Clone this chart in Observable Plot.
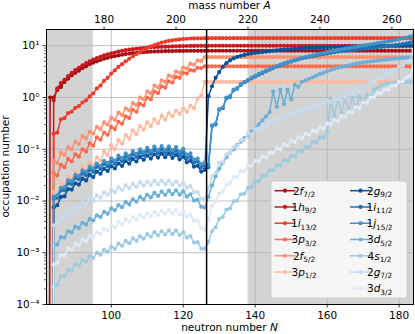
<!DOCTYPE html>
<html>
<head>
<meta charset="utf-8">
<script src="https://cdn.jsdelivr.net/npm/d3@7"></script>
<script src="https://cdn.jsdelivr.net/npm/@observablehq/plot@0.6"></script>
<style>
html,body{margin:0;padding:0;background:#fff;}
#chart svg{display:block;}
</style>
</head>
<body>
<div id="chart"></div>
<script>
// ---------- data (neutron number N = firstN + index) ----------
const firstN = 82;
const protonNumber = 82;          // lead: mass number A = N + 82
const shellClosure = 126.5;
const grayRegions = [[82, 95], [138, 184]];
const xTicks = [100, 120, 140, 160, 180];
const massTicks = [180, 200, 220, 240, 260];
const yTicks = [1e-4, 1e-3, 1e-2, 1e-1, 1, 10];
const yTickLabels = ["10⁻⁴", "10⁻³", "10⁻²", "10⁻¹", "10⁰", "10¹"];

const orbitals = ["2f7/2","1h9/2","1i13/2","3p3/2","2f5/2","3p1/2",
                  "2g9/2","1i11/2","1j15/2","3d5/2","4s1/2","2g7/2","3d3/2"];
const colors = ["#a50f15","#cb181d","#ef3b2c","#fb6a4a","#fc9272","#fcbba1",
                "#08519c","#2171b5","#4292c6","#6baed6","#9ecae1","#c6dbef","#deebf7"];

const occ2f72 = [0,1.0,1.0,1.4,1.6,2.0,2.3,2.7,3.0,3.3,
 3.7,4.0,4.4,4.7,5.0,5.3,5.6,5.85,6.1,6.3,
 6.5,6.7,6.9,7.05,7.2,7.3,7.4,7.5,7.6,7.65,
 7.7,7.75,7.8,7.85,7.88,7.9,7.92,7.94,7.95,7.96,
 7.97,7.98,7.98,7.99,7.99,8,8,8,8,8,
 8,8,8,8,8,8,8,8,8,8,
 8,8,8,8,8,8,8,8,8,8,
 8,8,8,8,8,8,8,8,8,8,
 8,8,8,8,8,8,8,8,8,8,
 8,8,8,8,8,8,8,8,8,8,
 8,8,8];
const occ1h92 = [0,0,0.88,1.5,1.9,2.2,2.6,3.0,3.4,3.75,
 4.2,4.6,5.0,5.4,5.8,6.1,6.5,6.8,7.1,7.4,
 7.7,7.95,8.2,8.4,8.6,8.75,8.9,9.05,9.2,9.3,
 9.4,9.5,9.55,9.6,9.65,9.7,9.75,9.8,9.85,9.88,
 9.9,9.93,9.95,9.97,9.98,10,10,10,10,10,
 10,10,10,10,10,10,10,10,10,10,
 10,10,10,10,10,10,10,10,10,10,
 10,10,10,10,10,10,10,10,10,10,
 10,10,10,10,10,10,10,10,10,10,
 10,10,10,10,10,10,10,10,10,10,
 10,10,10];
const occ1i132 = [0,0,0.2,0.21,0.38,0.4,0.5,0.53,0.63,0.68,
 0.8,0.88,1.05,1.2,1.5,1.7,2.1,2.4,2.9,3.35,
 3.9,4.4,5.0,5.6,6.3,6.9,7.6,8.3,9.0,9.7,
 10.3,10.9,11.5,12.0,12.4,12.7,13.0,13.25,13.5,13.65,
 13.8,13.87,13.93,13.97,14,14,14,14,14,14,
 14,14,14,14,14,14,14,14,14,14,
 14,14,14,14,14,14,14,14,14,14,
 14,14,14,14,14,14,14,14,14,14,
 14,14,14,14,14,14,14,14,14,14,
 14,14,14,14,14,14,14,14,14,14,
 14,14,14];
const occ3p32 = [0,0,0.035,0.031,0.05,0.045,0.065,0.058,0.08,0.072,
 0.1,0.09,0.13,0.117,0.17,0.153,0.21,0.19,0.27,0.245,
 0.34,0.31,0.43,0.4,0.58,0.53,0.75,0.7,1.0,0.93,
 1.3,1.22,1.65,1.55,2.05,1.95,2.5,2.4,3.0,2.9,
 3.4,3.3,3.75,3.7,4,4,4,4,4,4,
 4,4,4,4,4,4,4,4,4,4,
 4,4,4,4,4,4,4,4,4,4,
 4,4,4,4,4,4,4,4,4,4,
 4,4,4,4,4,4,4,4,4,4,
 4,4,4,4,4,4,4,4,4,4,
 4,4,4];
const occ2f52 = [0,0,0.06,0.054,0.085,0.077,0.11,0.1,0.14,0.126,
 0.18,0.162,0.22,0.2,0.27,0.245,0.33,0.3,0.41,0.37,
 0.51,0.46,0.62,0.56,0.78,0.71,1.0,0.92,1.3,1.2,
 1.7,1.57,2.15,2.0,2.65,2.48,3.2,3.0,3.8,3.6,
 4.5,4.3,5.2,5.1,6,6,6,6,6,6,
 6,6,6,6,6,6,6,6,6,6,
 6,6,6,6,6,6,6,6,6,6,
 6,6,6,6,6,6,6,6,6,6,
 6,6,6,6,6,6,6,6,6,6,
 6,6,6,6,6,6,6,6,6,6,
 6,6,6];
const occ3p12 = [0,0,0.015,0.012,0.022,0.019,0.03,0.026,0.038,0.032,
 0.047,0.04,0.057,0.048,0.07,0.06,0.09,0.077,0.12,0.1,
 0.15,0.128,0.19,0.16,0.23,0.195,0.28,0.24,0.33,0.28,
 0.38,0.32,0.44,0.37,0.5,0.43,0.56,0.48,0.62,0.53,
 0.7,0.62,0.95,1.1,2,2,2,2,2,2,
 2,2,2,2,2,2,2,2,2,2,
 2,2,2,2,2,2,2,2,2,2,
 2,2,2,2,2,2,2,2,2,2,
 2,2,2,2,2,2,2,2,2,2,
 2,2,2,2,2,2,2,2,2,2,
 2,2,2];
const occ2g92 = [0,0,0.0075,0.0083,0.012,0.0123,0.017,0.0166,0.022,0.0208,
 0.027,0.025,0.032,0.029,0.037,0.0336,0.042,0.038,0.047,0.0425,
 0.053,0.0476,0.059,0.0527,0.065,0.058,0.071,0.0625,0.076,0.066,
 0.08,0.069,0.082,0.07,0.082,0.068,0.078,0.064,0.072,0.056,
 0.06,0.046,0.048,0.037,0.04,1.06,1.65,2.4,3.1,3.9,
 4.6,5.2,5.7,6.1,6.4,6.65,6.9,7.1,7.25,7.4,
 7.55,7.7,7.85,8.0,8.15,8.3,8.42,8.54,8.65,8.75,
 8.85,8.93,9.0,9.07,9.13,9.19,9.25,9.3,9.35,9.4,
 9.44,9.48,9.52,9.56,9.6,9.63,9.66,9.69,9.72,9.74,
 9.76,9.78,9.8,9.82,9.84,9.86,9.88,9.9,9.92,9.94,
 9.96,9.98,10];
const occ1i112 = [0,0,0.011,0.0115,0.016,0.0162,0.022,0.0213,0.028,0.0264,
 0.034,0.0315,0.04,0.0366,0.046,0.0417,0.052,0.0468,0.058,0.0523,
 0.065,0.0582,0.072,0.0646,0.08,0.071,0.087,0.0765,0.093,0.081,
 0.097,0.0833,0.099,0.0837,0.098,0.0816,0.094,0.077,0.087,0.0676,
 0.072,0.0553,0.058,0.045,0.048,0.045,0.28,0.3,0.58,0.62,
 0.97,1.02,1.38,1.48,1.75,1.95,2.15,2.35,2.55,2.75,
 2.95,3.2,3.45,3.7,3.95,4.2,4.45,4.7,4.95,5.2,
 5.45,5.7,5.9,6.1,6.3,6.5,6.7,6.9,7.1,7.3,
 7.5,7.7,7.85,8.0,8.15,8.3,8.45,8.6,8.75,8.9,
 9.05,9.2,9.35,9.5,9.7,9.9,10.1,10.3,10.55,10.8,
 11.1,11.5,12];
const occ1j152 = [0,0,0.012,0.0128,0.018,0.0183,0.025,0.0242,0.032,0.0302,
 0.039,0.0361,0.046,0.0421,0.053,0.048,0.06,0.054,0.067,0.0604,
 0.075,0.0672,0.083,0.0744,0.092,0.0816,0.1,0.088,0.107,0.093,
 0.112,0.0965,0.115,0.0973,0.114,0.0952,0.11,0.09,0.102,0.0786,
 0.083,0.0633,0.066,0.0514,0.055,0.05,0.29,0.31,0.6,0.64,
 1.0,1.06,1.42,1.52,1.8,2.0,2.2,2.42,2.63,2.85,
 3.07,3.3,3.55,3.8,4.05,4.3,4.55,4.8,5.05,5.3,
 5.55,5.8,6.05,6.3,6.55,6.8,7.05,7.3,7.55,7.8,
 8.05,8.3,8.55,8.8,9.05,9.3,9.55,9.8,10.05,10.3,
 10.6,10.9,11.2,11.5,11.8,12.1,12.5,12.9,13.3,13.8,
 14.3,15.0,16];
const occ3d52 = [0,0,0.0014,0.00145,0.002,0.00196,0.0026,0.00247,0.0032,0.003,
 0.0038,0.0035,0.0045,0.0042,0.0053,0.0049,0.0062,0.0057,0.0072,0.0066,
 0.0083,0.0076,0.0095,0.0086,0.0108,0.0097,0.012,0.0107,0.0132,0.0117,
 0.0143,0.0125,0.0152,0.0132,0.0158,0.0135,0.016,0.0133,0.0153,0.0122,
 0.0135,0.0102,0.0105,0.0077,0.0075,0.012,0.02,0.03,0.042,0.055,
 0.07,0.085,0.1,0.12,0.14,0.165,0.19,0.22,0.26,0.3,
 0.36,0.43,0.52,1.3,0.66,1.4,0.75,1.42,0.92,1.75,
 1.6,2.0,2.15,2.3,2.45,2.65,2.85,3.0,3.2,3.4,
 3.6,3.75,3.9,4.05,4.2,4.35,4.5,4.6,4.75,4.85,
 4.95,5.05,5.15,5.25,5.35,5.45,5.55,5.65,5.72,5.8,
 5.87,5.93,6];
const occ4s12 = [0,0,0.00022,0.00024,0.00035,0.00035,0.00047,0.00045,0.0006,0.00056,
 0.00072,0.00067,0.00085,0.00079,0.001,0.00091,0.00115,0.00104,0.0013,0.00119,
 0.0015,0.00136,0.0017,0.00153,0.0019,0.0017,0.0021,0.00187,0.0023,0.00204,
 0.0025,0.00217,0.0026,0.00225,0.0027,0.0023,0.0027,0.0022,0.0025,0.00196,
 0.0021,0.00157,0.0016,0.00119,0.0012,0.0016,0.0026,0.0031,0.0045,0.0049,
 0.0068,0.0072,0.0098,0.0101,0.0135,0.0138,0.018,0.0185,0.024,0.0238,
 0.031,0.031,0.039,0.039,0.049,0.048,0.061,0.06,0.075,0.073,
 0.092,0.089,0.112,0.109,0.137,0.134,0.17,0.167,0.22,0.9,
 0.44,0.95,0.5,0.98,0.55,1.0,0.62,1.05,0.75,1.12,
 1.0,1.4,1.55,1.7,1.8,1.87,1.92,1.95,1.97,1.98,
 1.99,1.995,2];
const occ2g72 = [0,0,0.0034,0.0036,0.005,0.0049,0.0065,0.0062,0.008,0.0074,
 0.0095,0.0087,0.011,0.0101,0.0128,0.0116,0.0146,0.0132,0.0165,0.0148,
 0.0183,0.0163,0.02,0.0176,0.0215,0.0188,0.0228,0.0198,0.0238,0.0205,
 0.0245,0.021,0.0248,0.021,0.0247,0.0207,0.024,0.0198,0.0225,0.0179,
 0.0195,0.0147,0.015,0.011,0.011,0.0176,0.03,0.035,0.055,0.057,
 0.08,0.084,0.11,0.114,0.15,0.15,0.2,0.194,0.25,0.238,
 0.29,0.273,0.34,0.317,0.39,0.37,0.45,0.42,0.51,0.475,
 0.57,0.53,0.63,0.59,0.7,0.65,0.78,0.73,0.88,0.82,
 0.98,0.92,1.1,1.03,1.25,1.18,1.44,1.36,1.68,1.7,
 1.98,2.0,2.35,2.42,2.85,2.9,3.4,3.45,4.0,4.1,
 4.9,5.1,8];
const occ3d32 = [0,0,0.0006,0.00064,0.0009,0.00089,0.0012,0.00115,0.0015,0.0014,
 0.0018,0.00166,0.0021,0.00196,0.0025,0.0023,0.0029,0.00268,0.0034,0.0031,
 0.0039,0.0035,0.0044,0.004,0.0049,0.0044,0.0054,0.0048,0.0058,0.0051,
 0.0062,0.0054,0.0065,0.0056,0.0067,0.0057,0.0067,0.0055,0.0063,0.005,
 0.0055,0.0041,0.0042,0.003,0.0028,0.0044,0.008,0.0097,0.014,0.015,
 0.021,0.022,0.029,0.029,0.038,0.038,0.048,0.0475,0.06,0.058,
 0.073,0.07,0.088,0.0845,0.105,0.1,0.124,0.119,0.146,0.139,
 0.17,0.163,0.2,0.19,0.23,0.22,0.27,0.255,0.315,0.3,
 0.37,0.35,0.44,0.42,0.52,0.51,0.65,0.63,0.8,0.79,
 1.0,1.02,1.2,1.21,1.42,1.44,1.7,1.72,2.0,2.05,
 2.45,2.6,4];

const occupations = [occ2f72, occ1h92, occ1i132, occ3p32, occ2f52, occ3p12,
  occ2g92, occ1i112, occ1j152, occ3d52, occ4s12, occ2g72, occ3d32];

// ---------- build table ----------
const lastN = firstN + occ2f72.length - 1;
const rows = orbitals.map((name, i) =>
  occupations[i].map((v, j) => ({orbital: name, N: firstN + j, occ: v})));
// matplotlib clips non-positive values on a log axis to a tiny positive number
const yval = d => Math.max(d.occ, 1e-30);

const minorTicks = d3.range(-4, 2).flatMap(e => d3.range(2, 10).map(m => m * Math.pow(10, e))).filter(v => v < 20);

const seriesMarks = orbitals.flatMap((name, i) => [
  Plot.line(rows[i], {x: "N", y: yval, stroke: colors[i], strokeWidth: 1.5, clip: true}),
  Plot.dot(rows[i], {x: "N", y: yval, fill: colors[i], stroke: "none", r: 2.1, clip: true})
]);

const plot = Plot.plot({
  width: 415, height: 334,
  marginLeft: 46, marginRight: 2, marginTop: 29, marginBottom: 30,
  style: {fontFamily: "'DejaVu Sans', sans-serif", fontSize: "10.5px", background: "#fff", color: "#000", overflow: "visible"},
  x: {domain: [firstN, lastN]},
  y: {type: "log", domain: [1e-4, 20.6]},
  marks: [
    Plot.rect(grayRegions, {x1: d => d[0], x2: d => d[1], fill: "#d3d3d3"}),
    Plot.gridX(xTicks, {stroke: "#b0b0b0", strokeOpacity: 1, strokeWidth: 0.8}),
    Plot.gridY(yTicks, {stroke: "#b0b0b0", strokeOpacity: 1, strokeWidth: 0.8}),
    ...seriesMarks,
    Plot.ruleX([shellClosure], {stroke: "#000", strokeWidth: 1.5}),
    Plot.frame({stroke: "#000", strokeWidth: 1}),
    Plot.axisX(xTicks, {anchor: "bottom", tickSize: 3.5, tickPadding: 3.5, strokeWidth: 0.8, label: null}),
    Plot.axisX(massTicks.map(a => a - protonNumber), {anchor: "top", tickSize: 3.5, tickPadding: 3.5, strokeWidth: 0.8,
      tickFormat: d => String(d + protonNumber), label: null}),
    Plot.axisY(yTicks, {anchor: "left", tickSize: 3.5, tickPadding: 3.5, strokeWidth: 0.8,
      tickFormat: d => yTickLabels[yTicks.indexOf(d)], label: null}),
    Plot.axisY(minorTicks, {anchor: "left", tickSize: 2, strokeWidth: 0.6, tickFormat: () => "", label: null})
  ]
});

document.getElementById("chart").appendChild(plot);

// ---------- axis titles and legend ----------
const svg = d3.select(plot);
const font = "'DejaVu Sans', sans-serif";

const xl = svg.append("text").attr("x", 229.5).attr("y", 331).attr("text-anchor", "middle")
  .attr("font-family", font).attr("font-size", 10.5).attr("fill", "#000");
xl.append("tspan").text("neutron number ");
xl.append("tspan").attr("font-style", "italic").text("N");

const tl = svg.append("text").attr("x", 229.5).attr("y", 9).attr("text-anchor", "middle")
  .attr("font-family", font).attr("font-size", 10.5).attr("fill", "#000");
tl.append("tspan").text("mass number ");
tl.append("tspan").attr("font-style", "italic").text("A");

svg.append("text").attr("transform", "translate(8.5,166.5) rotate(-90)").attr("text-anchor", "middle")
  .attr("font-family", font).attr("font-size", 10.5).attr("fill", "#000").text("occupation number");

const lg = svg.append("g");
lg.append("rect").attr("x", 271).attr("y", 181).attr("width", 136).attr("height", 117).attr("rx", 3)
  .attr("fill", "#fff").attr("fill-opacity", 0.8).attr("stroke", "#cccccc").attr("stroke-width", 0.8);
orbitals.forEach((name, i) => {
  const col = i < 6 ? 0 : 1;
  const row = col === 0 ? i : i - 6;
  const y = 190.7 + row * 16.27;
  const hx = col === 0 ? 274.5 : 350;
  lg.append("line").attr("x1", hx).attr("x2", hx + 21).attr("y1", y).attr("y2", y)
    .attr("stroke", colors[i]).attr("stroke-width", 1.5);
  lg.append("circle").attr("cx", hx + 10.5).attr("cy", y).attr("r", 2.1).attr("fill", colors[i]);
  const t = lg.append("text").attr("x", hx + 29.5).attr("y", y + 3.8)
    .attr("font-family", font).attr("font-size", 10.5).attr("fill", "#000");
  t.append("tspan").text(name[0]);
  t.append("tspan").attr("font-style", "italic").text(name[1]);
  t.append("tspan").attr("font-size", 7.3).attr("dy", 2.6).text(name.slice(2));
});
</script>
</body>
</html>
